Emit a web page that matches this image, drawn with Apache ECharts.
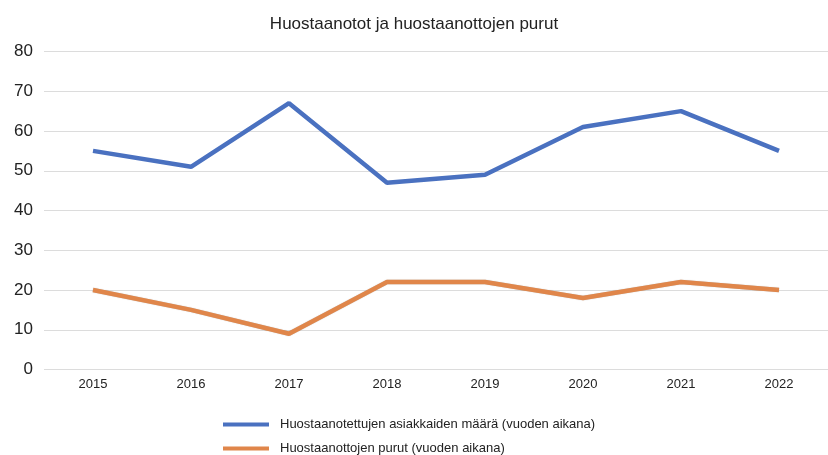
<!DOCTYPE html>
<html>
<head>
<meta charset="utf-8">
<script src="https://cdn.jsdelivr.net/npm/echarts@6/dist/echarts.min.js"></script>
<style>
  html, body { margin: 0; padding: 0; background: #fff; }
  #chart { width: 828px; height: 455px; }
</style>
</head>
<body>
<div id="chart"></div>
<script>
let years = ['2015', '2016', '2017', '2018', '2019', '2020', '2021', '2022'];
let huostaanotetut = [55, 51, 67, 47, 49, 61, 65, 55];
let purut = [20, 15, 9, 22, 22, 18, 22, 20];
let seriesNames = ['Huostaanotettujen asiakkaiden määrä (vuoden aikana)', 'Huostaanottojen purut (vuoden aikana)'];

let colorList = ['#4A71C0', '#E0864A'];
let font = 'Liberation Sans, Arial, sans-serif';

// two single-item legends, stacked like the original
let legendBase = {
  left: 223,
  padding: 0,
  itemWidth: 46,
  itemHeight: 4,
  icon: 'rect',
  textStyle: { fontFamily: font, fontSize: 13, color: '#222', padding: [0, 0, 0, 6] }
};

let option = {
  color: colorList,
  animation: false,
  title: {
    text: 'Huostaanotot ja huostaanottojen purut',
    left: 'center',
    top: 11,
    textStyle: { fontFamily: font, fontSize: 17, fontWeight: 'normal', color: '#222' }
  },
  legend: [
    Object.assign({}, legendBase, { top: 418, data: [seriesNames[0]] }),
    Object.assign({}, legendBase, { top: 442, data: [seriesNames[1]] })
  ],
  grid: { left: 44, right: 0, top: 51.5, bottom: 85.5 },
  xAxis: {
    type: 'category',
    data: years,
    boundaryGap: true,
    axisLine: { show: false },
    axisTick: { show: false },
    axisLabel: { fontFamily: font, fontSize: 13, color: '#222', margin: 8 }
  },
  yAxis: {
    type: 'value',
    min: 0,
    max: 80,
    interval: 10,
    axisLine: { show: false },
    axisTick: { show: false },
    axisLabel: { fontFamily: font, fontSize: 17, color: '#222', margin: 11 },
    splitLine: { lineStyle: { color: '#dcdcdc', width: 1 } }
  },
  series: [
    {
      name: seriesNames[0],
      type: 'line',
      data: huostaanotetut,
      symbol: 'none',
      lineStyle: { width: 4.5 }
    },
    {
      name: seriesNames[1],
      type: 'line',
      data: purut,
      symbol: 'none',
      lineStyle: { width: 4.5, shadowColor: 'rgba(0,0,0,0.25)', shadowBlur: 1 }
    }
  ]
};

let chart = echarts.init(document.getElementById('chart'));
chart.setOption(option);
</script>
</body>
</html>
